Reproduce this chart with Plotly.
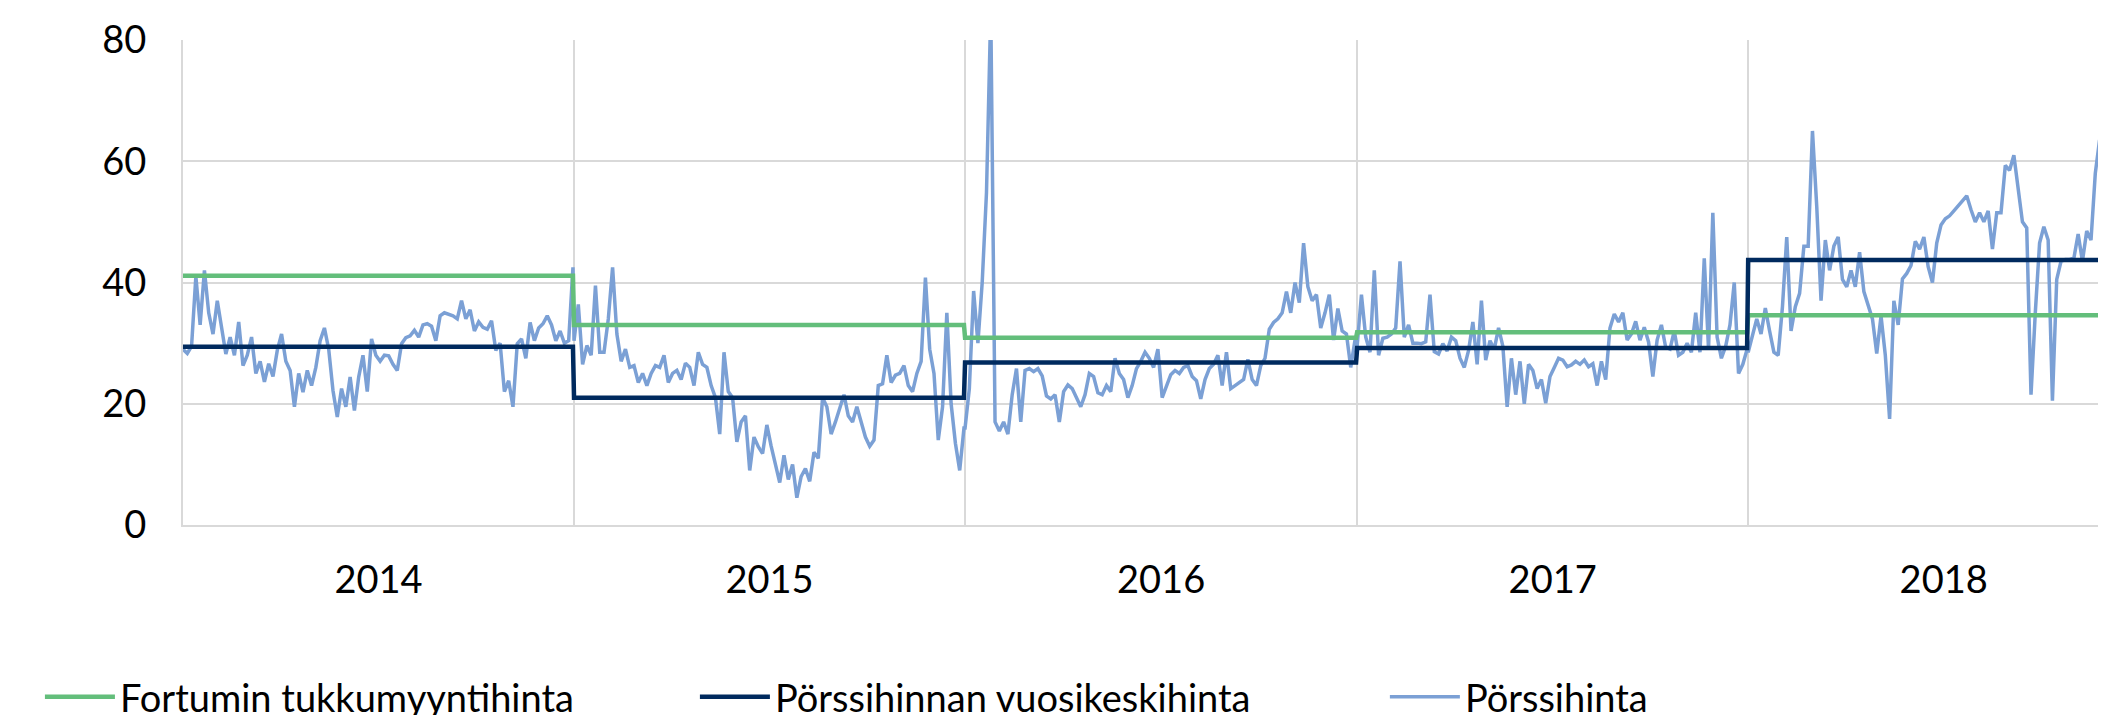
import pandas as pd
import plotly.graph_objects as go

# ---------------- data ----------------
years = [2014, 2015, 2016, 2017, 2018]
fortum_price = [41.1, 33.0, 30.9, 31.8, 34.6]      # Fortumin tukkumyyntihinta
annual_avg = [29.4, 21.0, 26.8, 29.2, 43.7]        # Pörssihinnan vuosikeskihinta

# Pörssihinta, read every 4 days from 1 Jan of each year
price_2014 = [29.0, 28.3, 29.5, 41.0, 33.0, 42.0, 35.0, 31.5, 37.0, 33.0,
              28.2, 31.0, 28.0, 33.5, 26.3, 28.0, 31.0, 25.0, 27.0, 23.6,
              26.6, 24.5, 28.8, 31.5, 27.0, 25.5, 19.5, 25.0, 21.9, 25.5,
              23.0, 26.0, 30.4, 32.5, 29.0, 22.2, 17.8, 22.5, 19.5, 24.4,
              18.9, 24.4, 28.0, 22.0, 30.7, 28.0, 27.0, 28.0, 27.9, 26.5,
              25.5, 29.9, 30.9, 31.2, 32.1, 31.0, 33.0, 33.2, 32.8, 30.4,
              34.5, 35.0, 34.8, 34.5, 34.0, 37.0, 34.0, 35.5, 32.0, 33.5,
              32.6, 32.3, 33.7, 28.8, 30.0, 22.0, 23.8, 19.5, 29.9, 30.7,
              27.5, 33.4, 30.4, 32.5, 33.2, 34.5, 33.0, 30.4, 32.0, 30.0,
              30.4, 42.5]
price_2015 = [30.4, 36.4, 26.5, 29.6, 28.0, 39.5, 28.5, 28.5, 34.0, 42.5,
              31.5, 27.0, 29.0, 26.0, 26.3, 23.5, 25.0, 23.0, 25.0, 26.3,
              26.0, 28.0, 23.5, 25.0, 25.5, 24.0, 26.7, 26.0, 23.0, 28.5,
              26.5, 26.0, 23.0, 21.0, 15.0, 28.5, 22.0, 21.0, 13.7, 17.0,
              18.0, 9.0, 14.5, 12.9, 11.8, 16.5, 13.0, 10.0, 7.0, 11.5,
              7.5, 10.0, 4.5, 8.0, 9.3, 7.2, 12.0, 11.0, 21.0, 19.5,
              15.0, 17.0, 19.5, 21.5, 18.0, 17.0, 19.5, 17.0, 14.5, 13.0,
              14.0, 23.0, 23.3, 28.0, 23.5, 24.7, 25.0, 26.3, 23.0, 22.0,
              25.0, 27.0, 40.8, 29.0, 25.0, 14.0, 19.5, 35.0, 20.0, 13.5,
              9.0, 16.0]
price_2016 = [16.0, 22.5, 38.6, 30.0, 40.0, 54.8, 85.0, 17.0, 15.5, 17.0,
              15.0, 21.5, 25.8, 17.0, 25.5, 25.8, 25.3, 25.8, 24.6, 21.3,
              20.8, 21.5, 17.0, 22.0, 23.1, 22.5, 21.0, 19.5, 21.5, 25.0,
              24.5, 21.8, 21.5, 23.0, 22.0, 27.5, 25.0, 24.0, 21.0, 23.0,
              25.8, 27.0, 28.5, 27.5, 26.0, 29.0, 21.0, 23.0, 24.8, 25.5,
              25.0, 26.0, 26.3, 24.5, 23.8, 20.8, 24.0, 25.8, 26.5, 28.0,
              23.0, 28.5, 22.5, 23.0, 23.5, 24.0, 27.3, 24.0, 23.0, 26.3,
              27.5, 32.3, 33.4, 34.0, 35.0, 38.5, 35.0, 40.0, 36.7, 46.5,
              39.3, 37.0, 38.0, 32.5, 35.0, 38.0, 30.5, 35.7, 32.0, 31.5,
              26.0, 30.5]
price_2017 = [29.5, 38.0, 31.0, 28.5, 42.0, 28.0, 30.8, 31.0, 31.5, 32.5,
              43.5, 31.0, 33.0, 30.0, 30.0, 29.9, 30.2, 38.0, 28.6, 28.2,
              29.9, 28.7, 31.0, 30.4, 27.5, 26.0, 28.8, 33.5, 26.5, 37.0,
              27.2, 30.4, 29.0, 32.5, 29.5, 19.5, 27.5, 21.5, 27.0, 20.0,
              26.5, 25.5, 22.5, 24.0, 20.1, 24.5, 26.0, 27.5, 27.2, 26.1,
              26.4, 27.0, 26.5, 27.2, 26.1, 26.6, 23.0, 27.0, 24.0, 32.5,
              34.8, 33.5, 35.0, 30.5, 31.5, 33.6, 30.5, 32.6, 30.2, 24.5,
              30.5, 33.0, 29.3, 29.0, 32.0, 28.0, 28.5, 30.0, 28.5, 35.0,
              28.5, 44.0, 29.0, 51.5, 31.0, 27.5, 29.5, 33.0, 40.0, 25.0,
              26.5, 29.0]
price_2018 = [28.5, 31.5, 34.0, 31.5, 35.8, 32.0, 28.5, 28.0, 36.0, 47.5,
              32.0, 36.0, 38.2, 46.0, 46.0, 65.0, 52.5, 37.0, 47.0, 42.0,
              46.0, 47.5, 40.5, 39.3, 42.0, 39.3, 45.0, 38.5, 36.0, 34.0,
              28.3, 34.5, 28.0, 17.5, 37.0, 33.0, 40.6, 41.5, 42.8, 46.8,
              45.5, 47.5, 42.6, 40.0, 46.5, 49.5, 50.5, 51.0, 51.8, 52.6,
              53.6, 54.3, 52.0, 50.0, 51.5, 50.0, 51.8, 45.5, 51.5, 51.5,
              59.3, 58.5, 61.0, 55.5, 50.0, 49.0, 21.5, 35.0, 46.5, 49.2,
              47.0, 20.5, 40.5, 43.5, 43.8, 43.8, 44.0, 48.0, 43.5, 48.5,
              47.0, 58.0, 63.5, 45.0]

series_names = ["Fortumin tukkumyyntihinta", "Pörssihinnan vuosikeskihinta", "Pörssihinta"]

# ---------------- build ----------------
yearly_prices = [price_2014, price_2015, price_2016, price_2017, price_2018]
spot_x, spot_y = [], []
for yr, vals in zip(years, yearly_prices):
    spot_x += list(pd.date_range(f"{yr}-01-01", periods=len(vals), freq="4D"))
    spot_y += vals

step_x = []
for yr in years:
    step_x += [f"{yr}-01-01", f"{yr}-12-31"]
fortum_y = [v for v in fortum_price for _ in range(2)]
avg_y = [v for v in annual_avg for _ in range(2)]

GREEN = "#63BE7B"
NAVY = "#002A5E"
BLUE = "#7BA0D5"
GRID = "#D9D9D9"
FONT = "Lato"

fig = go.Figure()
fig.add_trace(go.Scatter(x=spot_x, y=spot_y, mode="lines", name=series_names[2],
                         line=dict(color=BLUE, width=3.5), legend="legend3"))
fig.add_trace(go.Scatter(x=step_x, y=fortum_y, mode="lines", name=series_names[0],
                         line=dict(color=GREEN, width=4.5), legend="legend"))
fig.add_trace(go.Scatter(x=step_x, y=avg_y, mode="lines", name=series_names[1],
                         line=dict(color=NAVY, width=4.5), legend="legend2"))

leg_common = dict(orientation="h", y=-0.355, yanchor="middle", xanchor="left",
                  font=dict(family=FONT, size=38, color="#000000"),
                  bgcolor="rgba(0,0,0,0)", itemwidth=70)

fig.update_layout(
    width=2106, height=715,
    margin=dict(l=175, r=8, t=32, b=198, autoexpand=False),
    plot_bgcolor="white", paper_bgcolor="white",
    font=dict(family=FONT, size=38, color="#000000"),
    showlegend=True,
    legend=dict(x=-0.0744, **leg_common),
    legend2=dict(x=0.2662, **leg_common),
    legend3=dict(x=0.6250, **leg_common),
    xaxis=dict(type="date", range=["2014-01-01", "2018-12-01"],
               tick0="2014-01-01", dtick="M12", tickformat="%Y",
               ticklabelmode="period", showgrid=True, gridcolor=GRID, gridwidth=2,
               showline=True, linecolor=GRID, linewidth=2, ticks="",
               zeroline=False, ticklabelstandoff=20,
               tickfont=dict(family=FONT, size=38, color="#000000")),
    yaxis=dict(range=[0, 80], tick0=0, dtick=20, showgrid=True, gridcolor=GRID,
               gridwidth=2, showline=True, linecolor=GRID, linewidth=2, ticks="",
               zeroline=False, ticklabelstandoff=27,
               tickfont=dict(family=FONT, size=38, color="#000000")),
)

fig.write_html("out.html")
